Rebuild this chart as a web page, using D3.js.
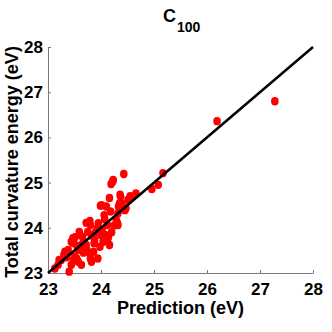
<!DOCTYPE html>
<html>
<head>
<meta charset="utf-8">
<script src="https://cdn.jsdelivr.net/npm/d3@7"></script>
<style>
  html, body { margin: 0; padding: 0; background: #fff; }
  svg { display: block; }
  text { font-family: "Liberation Sans", Arial, sans-serif; font-weight: bold; fill: #000; }
</style>
</head>
<body>
<svg id="chart" width="332" height="332"></svg>
<script>
const title = "C";
const titleSub = "100";
const xLabel = "Prediction (eV)";
const yLabel = "Total curvature energy (eV)";
const xTicks = [23, 24, 25, 26, 27, 28];
const yTicks = [23, 24, 25, 26, 27, 28];
const diagonal = [23, 28];

// predicted values (x)
const predicted = [
  27.28, 26.19, 25.17, 25.08, 24.96, 24.43, 24.22, 24.19, 24.66, 24.60,
  24.55, 24.36, 24.51, 24.37, 24.16, 23.99, 24.35, 24.41, 24.47, 24.06,
  24.18, 24.32, 24.29, 23.79, 23.80, 23.72, 24.07, 24.12, 24.32, 24.31,
  23.60, 23.59, 23.47, 23.44, 23.75, 23.82, 23.89, 23.93, 23.88, 24.00,
  24.04, 24.13, 24.16, 23.98, 23.63, 23.69, 23.57, 23.74, 23.80, 23.38,
  23.30, 23.25, 23.19, 23.13, 23.50, 23.57, 23.44, 23.63, 23.40, 23.82,
  23.94, 23.86, 23.51, 23.48, 23.67, 23.72, 23.87, 24.14, 24.08, 23.67,
  23.73, 23.32, 23.21, 23.54, 23.48, 24.23, 24.10, 24.45, 23.95, 24.25,
  23.65, 23.55, 24.02, 24.20, 23.35, 24.33, 24.39, 24.01
];
// total curvature energy (y)
const actual = [
  26.80, 26.36, 25.21, 24.95, 24.86, 25.19, 25.02, 24.97, 24.76, 24.69,
  24.70, 24.73, 24.62, 24.69, 24.66, 24.49, 24.54, 24.47, 24.43, 24.28,
  24.36, 24.32, 24.17, 24.15, 24.06, 24.11, 24.19, 24.06, 24.06, 24.10,
  23.86, 23.91, 23.77, 23.69, 23.91, 23.83, 23.89, 23.99, 23.73, 23.84,
  23.69, 23.77, 23.62, 23.58, 23.62, 23.55, 23.51, 23.47, 23.32, 23.51,
  23.40, 23.29, 23.18, 23.10, 23.36, 23.25, 23.18, 23.18, 23.03, 23.25,
  23.32, 23.47, 23.79, 23.66, 23.69, 23.62, 23.66, 23.80, 23.84, 23.45,
  23.52, 23.47, 23.29, 23.32, 23.29, 25.06, 24.47, 24.39, 24.10, 24.05,
  23.80, 23.60, 23.95, 23.90, 23.35, 24.47, 24.54, 24.50
];

const svg = d3.select("#chart");
const mLeft = 48, mRight = 313, mTop = 47, mBottom = 273;
const x = d3.scaleLinear().domain([23, 28]).range([mLeft, mRight]);
const y = d3.scaleLinear().domain([23, 28]).range([mBottom, mTop]);

const axisColor = "#7a7a7a";

// x axis
const gx = svg.append("g").attr("transform", `translate(0,${mBottom})`)
  .call(d3.axisBottom(x).tickValues(xTicks).tickFormat(d3.format("d")).tickSizeInner(-3).tickSizeOuter(0).tickPadding(10));
gx.select(".domain").attr("stroke", axisColor);
gx.selectAll(".tick line").attr("stroke", axisColor);
gx.selectAll(".tick text").attr("font-size", 17).attr("font-family", "Liberation Sans, Arial, sans-serif").attr("font-weight", "bold").attr("fill", "#000");

// y axis
const gy = svg.append("g").attr("transform", `translate(${mLeft},0)`)
  .call(d3.axisLeft(y).tickValues(yTicks).tickFormat(d3.format("d")).tickSizeInner(-3).tickSizeOuter(0).tickPadding(5));
gy.select(".domain").attr("stroke", axisColor);
gy.selectAll(".tick line").attr("stroke", axisColor);
gy.selectAll(".tick text").attr("font-size", 17).attr("font-family", "Liberation Sans, Arial, sans-serif").attr("font-weight", "bold").attr("fill", "#000");

// points
const pts = predicted.map((p, i) => ({ p, a: actual[i] }));
svg.append("g").selectAll("ellipse").data(pts).join("ellipse")
  .attr("cx", d => x(d.p))
  .attr("cy", d => y(d.a))
  .attr("rx", 3.8)
  .attr("ry", 4.2)
  .attr("fill", "#ff0000");

// diagonal
svg.append("line")
  .attr("x1", x(diagonal[0])).attr("y1", y(diagonal[0]))
  .attr("x2", x(diagonal[1])).attr("y2", y(diagonal[1]))
  .attr("stroke", "#000").attr("stroke-width", 2.5);

// title
const t = svg.append("text").attr("x", 163).attr("y", 22).attr("font-size", 18);
t.append("tspan").text(title);
t.append("tspan").attr("font-size", 14).attr("dy", 10).attr("dx", 1).text(titleSub);

// axis labels
svg.append("text").attr("x", (mLeft + mRight) / 2).attr("y", 314)
  .attr("text-anchor", "middle").attr("font-size", 18).text(xLabel);
svg.append("text").attr("transform", `translate(18,${(mTop + mBottom) / 2 + 2}) rotate(-90)`)
  .attr("text-anchor", "middle").attr("font-size", 18).text(yLabel);
</script>
</body>
</html>
